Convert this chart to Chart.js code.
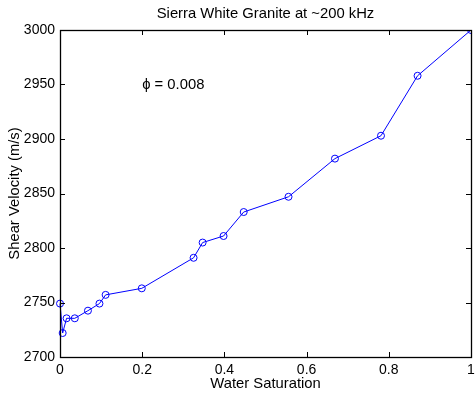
<!DOCTYPE html>
<html>
<head>
<meta charset="utf-8">
<script src="https://cdn.jsdelivr.net/npm/chart.js@4/dist/chart.umd.min.js"></script>
<style>
  html, body { margin: 0; padding: 0; background: #fff; }
  #wrap { width: 476px; height: 396px; }
</style>
</head>
<body>
<div id="wrap"><canvas id="c" width="476" height="396"></canvas></div>
<script>
// Shear velocity vs. water saturation, Sierra White granite (~200 kHz)
const saturation    = [0, 0.0065, 0.016, 0.036, 0.068, 0.096, 0.111, 0.199, 0.325, 0.347, 0.398, 0.447, 0.556, 0.669, 0.781, 0.870, 1.0];
const shearVelocity = [2749, 2722, 2735.5, 2735.5, 2742.5, 2749, 2757, 2763, 2791, 2805, 2811, 2833, 2847, 2882, 2903, 2958, 3000];

const xTicks = [0, 0.2, 0.4, 0.6, 0.8, 1];
const xTickLabels = ['0', '0.2', '0.4', '0.6', '0.8', '1'];
const yTicks = [2700, 2750, 2800, 2850, 2900, 2950, 3000];
const yTickLabels = ['2700', '2750', '2800', '2850', '2900', '2950', '3000'];

const chartTitle = 'Sierra White Granite at ~200 kHz';
const porosityNote = '\u03D5 = 0.008';
const noteAt = { x: 0.2, y: 2950 };

const FONT = 'Liberation Sans, Arial, Helvetica, sans-serif';
const TICK_SIZE = 14;
const TEXT_SIZE = 14.8;

// Boxed axes with inward tick marks on all four sides, title over the plot, porosity note
const boxAndTicks = {
  id: 'boxAndTicks',
  afterDraw(chart) {
    const { ctx, chartArea: a, scales: { x, y } } = chart;
    const len = 5;
    ctx.save();
    ctx.strokeStyle = '#000';
    ctx.lineWidth = 1;
    ctx.beginPath();
    xTicks.forEach(v => {
      const px = Math.round(x.getPixelForValue(v)) + 0.5;
      ctx.moveTo(px, a.bottom); ctx.lineTo(px, a.bottom - len);
      ctx.moveTo(px, a.top);    ctx.lineTo(px, a.top + len);
    });
    yTicks.forEach(v => {
      const py = Math.round(y.getPixelForValue(v)) + 0.5;
      ctx.moveTo(a.left, py);  ctx.lineTo(a.left + len, py);
      ctx.moveTo(a.right, py); ctx.lineTo(a.right - len, py);
    });
    ctx.stroke();
    ctx.lineWidth = 1.3;
    ctx.strokeRect(Math.round(a.left) + 0.5, Math.round(a.top) + 0.5,
                   Math.round(a.right - a.left), Math.round(a.bottom - a.top));

    ctx.fillStyle = '#000';
    ctx.font = TEXT_SIZE + 'px ' + FONT;
    ctx.textBaseline = 'middle';
    ctx.textAlign = 'center';
    ctx.fillText(chartTitle, (a.left + a.right) / 2, 14);
    ctx.textAlign = 'left';
    ctx.fillText(porosityNote, x.getPixelForValue(noteAt.x), y.getPixelForValue(noteAt.y));
    ctx.restore();
  }
};

new Chart(document.getElementById('c'), {
  type: 'line',
  data: {
    datasets: [{
      data: saturation.map((s, i) => ({ x: s, y: shearVelocity[i] })),
      borderColor: '#0000ff',
      borderWidth: 1,
      pointStyle: 'circle',
      pointRadius: 3.5,
      pointBorderWidth: 1,
      pointBorderColor: '#0000ff',
      pointBackgroundColor: 'rgba(0,0,0,0)',
      tension: 0,
      fill: false,
      clip: { left: 6, top: 0, right: 0, bottom: 6 }
    }]
  },
  options: {
    responsive: false,
    devicePixelRatio: 1,
    animation: false,
    layout: { padding: { top: 30, right: 2, bottom: 0, left: 0 } },
    plugins: {
      legend: { display: false },
      tooltip: { enabled: false },
      title: { display: false }
    },
    scales: {
      x: {
        type: 'linear',
        min: 0,
        max: 1,
        afterBuildTicks: s => { s.ticks = xTicks.map(v => ({ value: v })); },
        afterFit: s => { s.height = 39; s.paddingLeft = 0; s.paddingRight = 0; },
        grid: { display: false, drawTicks: false },
        border: { display: false },
        ticks: {
          color: '#000',
          padding: 5,
          maxRotation: 0,
          autoSkip: false,
          font: { family: FONT, size: TICK_SIZE },
          callback: v => xTickLabels[xTicks.indexOf(v)]
        },
        title: {
          display: true,
          text: 'Water Saturation',
          color: '#000',
          font: { family: FONT, size: TEXT_SIZE, lineHeight: 1.2 },
          padding: { top: 0, bottom: 3 }
        }
      },
      y: {
        type: 'linear',
        min: 2700,
        max: 3000,
        afterBuildTicks: s => { s.ticks = yTicks.map(v => ({ value: v })); },
        afterFit: s => { s.width = 60; s.paddingTop = 0; s.paddingBottom = 0; },
        grid: { display: false, drawTicks: false },
        border: { display: false },
        ticks: {
          color: '#000',
          padding: 5,
          autoSkip: false,
          font: { family: FONT, size: TICK_SIZE },
          callback: v => yTickLabels[yTicks.indexOf(v)]
        },
        title: {
          display: true,
          text: 'Shear Velocity (m/s)',
          color: '#000',
          font: { family: FONT, size: TEXT_SIZE, lineHeight: 1.2 },
          padding: { top: 6, bottom: 0 }
        }
      }
    }
  },
  plugins: [boxAndTicks]
});
</script>
</body>
</html>
